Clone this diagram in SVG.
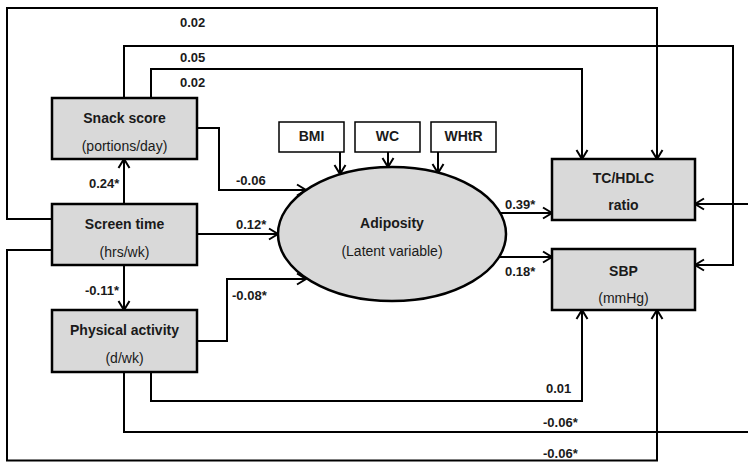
<svg xmlns="http://www.w3.org/2000/svg" width="748" height="462" viewBox="0 0 748 462">
<style>
.box{fill:#d9d9d9;stroke:#000;stroke-width:2.5}
.ind{fill:#fff;stroke:#000;stroke-width:1.5}
.t{font-family:"Liberation Sans",Arial,sans-serif;font-size:14px;text-anchor:middle;fill:#1a1a1a}
.b{font-weight:bold}
.lab{font-family:"Liberation Sans",Arial,sans-serif;font-size:13px;font-weight:bold;fill:#1a1a1a}
.c{fill:none;stroke:#000;stroke-width:2}
.a{marker-end:url(#arr)}
</style>
<defs>
<marker id="arr" markerUnits="userSpaceOnUse" markerWidth="12" markerHeight="14" refX="10" refY="7" orient="auto">
<path d="M1,1.5 L10,7 L1,12.5" fill="none" stroke="#000" stroke-width="2"/>
</marker>
</defs>
<rect width="748" height="462" fill="#fff"/>
<g id="connectors">
<path class="c a" d="M52,219 H7 V8 H657 V159"/>
<path class="c a" d="M124,98 V46 H733 V265 H695"/>
<path class="c a" d="M151,98 V69 H582 V159"/>
<path class="c a" d="M197,128 H219 V190 H306"/>
<path class="c a" d="M124,204 V159"/>
<path class="c a" d="M197,234 H278"/>
<path class="c a" d="M124,265 V310"/>
<path class="c a" d="M197,341 H227 V279 H306"/>
<path class="c a" d="M151,372 V401 H582 V310"/>
<path class="c" d="M124,372 V432 H748"/>
<path class="c a" d="M52,250 H7 V460.5 H657 V310"/>
<path class="c a" d="M748,204 H695"/>
<path class="c a" d="M500,213 H552"/>
<path class="c a" d="M499,257 H552"/>
<path class="c a" d="M340,152 V174"/>
<path class="c a" d="M388,152 V167"/>
<path class="c a" d="M438,152 V173"/>
<text class="lab" x="180" y="27">0.02</text>
<text class="lab" x="180" y="62">0.05</text>
<text class="lab" x="180" y="87">0.02</text>
<text class="lab" x="236" y="185">-0.06</text>
<text class="lab" x="89" y="188">0.24*</text>
<text class="lab" x="236" y="229">0.12*</text>
<text class="lab" x="85" y="295">-0.11*</text>
<text class="lab" x="232" y="300">-0.08*</text>
<text class="lab" x="505" y="209">0.39*</text>
<text class="lab" x="505" y="276">0.18*</text>
<text class="lab" x="546" y="393">0.01</text>
<text class="lab" x="543" y="427">-0.06*</text>
<text class="lab" x="543" y="458">-0.06*</text>
</g>
<g id="snack">
<rect class="box" x="52" y="98" width="145" height="61"/>
<text class="t b" x="124.5" y="123">Snack score</text>
<text class="t" x="124.5" y="151">(portions/day)</text>
</g>
<g id="screen">
<rect class="box" x="52" y="204" width="145" height="61"/>
<text class="t b" x="124.5" y="229">Screen time</text>
<text class="t" x="124.5" y="257">(hrs/wk)</text>
</g>
<g id="pa">
<rect class="box" x="52" y="310" width="145" height="62"/>
<text class="t b" x="124.5" y="335">Physical activity</text>
<text class="t" x="124.5" y="363">(d/wk)</text>
</g>
<g id="bmi">
<rect class="ind" x="279" y="122" width="65" height="30"/>
<text class="t b" x="311.5" y="141" font-size="13">BMI</text>
</g>
<g id="wc">
<rect class="ind" x="355" y="122" width="65" height="30"/>
<text class="t b" x="387.5" y="141" font-size="13">WC</text>
</g>
<g id="whtr">
<rect class="ind" x="431" y="122" width="65" height="30"/>
<text class="t b" x="463.5" y="141" font-size="13">WHtR</text>
</g>
<g id="adiposity">
<ellipse cx="392" cy="234" rx="114" ry="67" fill="#d9d9d9" stroke="#000" stroke-width="2.5"/>
<text class="t b" x="392" y="228">Adiposity</text>
<text class="t" x="392" y="256">(Latent variable)</text>
</g>
<g id="tchdlc">
<rect class="box" x="552" y="159" width="143" height="61"/>
<text class="t b" x="623.5" y="183">TC/HDLC</text>
<text class="t b" x="623.5" y="210">ratio</text>
</g>
<g id="sbp">
<rect class="box" x="552" y="249" width="143" height="61"/>
<text class="t b" x="623.5" y="276">SBP</text>
<text class="t" x="623.5" y="303">(mmHg)</text>
</g>
</svg>
